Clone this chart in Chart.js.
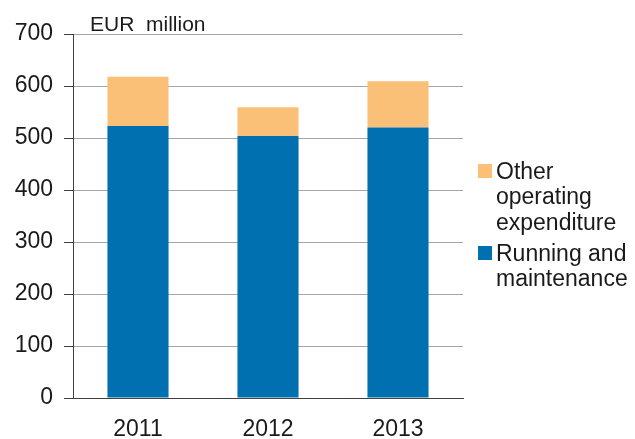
<!DOCTYPE html>
<html>
<head>
<meta charset="utf-8">
<script src="https://cdn.jsdelivr.net/npm/chart.js@4"></script>
<style>
  body { margin: 0; background: #fff; }
  #wrap { position: relative; width: 635px; height: 439px; font-family: "Liberation Sans", Arial, sans-serif; color: #1a1a1a; }
  #unit { position: absolute; left: 90px; top: 13px; font-size: 21px; line-height: 21px; white-space: pre; }
  #legend { position: absolute; left: 478px; top: 159px; font-size: 23px; line-height: 25.3px; }
  .item { position: relative; padding-left: 18px; margin-bottom: 6px; }
  .box { position: absolute; left: 0; top: 5px; width: 14px; height: 14px; }
</style>
</head>
<body>
<div id="wrap">
  <canvas id="chart"></canvas>
  <div id="unit">EUR  million</div>
  <div id="legend"></div>
</div>
<script>
const years = ['2011', '2012', '2013'];
const running = [523, 504, 520];
const other = [95, 55, 89];
const seriesNames = [['Running and', 'maintenance'], ['Other', 'operating', 'expenditure']];
const seriesColors = ['#0070b0', '#fac078'];

const FONT = '"Liberation Sans", Arial, sans-serif';
const dark = '#404040';

const chart = new Chart(document.getElementById('chart').getContext('2d'), {
  type: 'bar',
  data: {
    labels: years,
    datasets: [
      {label: seriesNames[0].join(' '), data: running, backgroundColor: seriesColors[0]},
      {label: seriesNames[1].join(' '), data: other, backgroundColor: seriesColors[1]}
    ]
  },
  options: {
    responsive: true,
    maintainAspectRatio: false,
    animation: false,
    datasets: {bar: {barPercentage: 0.47, categoryPercentage: 1}},
    layout: {padding: {left: 0, right: 172, top: 34, bottom: 0}},
    plugins: {legend: {display: false}, tooltip: {enabled: false}},
    scales: {
      x: {
        stacked: true,
        grid: {display: false},
        border: {display: true, color: dark, width: 1},
        ticks: {color: '#1a1a1a', font: {family: FONT, size: 23}, padding: 10},
        afterFit: s => { s.height = 41; }
      },
      y: {
        stacked: true,
        min: 0,
        max: 700,
        grid: {color: '#a6a6a6', tickColor: dark, tickLength: 9},
        border: {display: true, color: dark, width: 1},
        ticks: {stepSize: 100, color: '#1a1a1a', font: {family: FONT, size: 23}, padding: 11},
        afterFit: s => { s.width = 73; }
      }
    }
  }
});

// legend in reverse order, like the stack
const legend = document.getElementById('legend');
for (let i = seriesNames.length - 1; i >= 0; i--) {
  const item = document.createElement('div');
  item.className = 'item';
  item.innerHTML = `<span class="box" style="background:${seriesColors[i]}"></span>` + seriesNames[i].join('<br>');
  legend.appendChild(item);
}
</script>
</body>
</html>
